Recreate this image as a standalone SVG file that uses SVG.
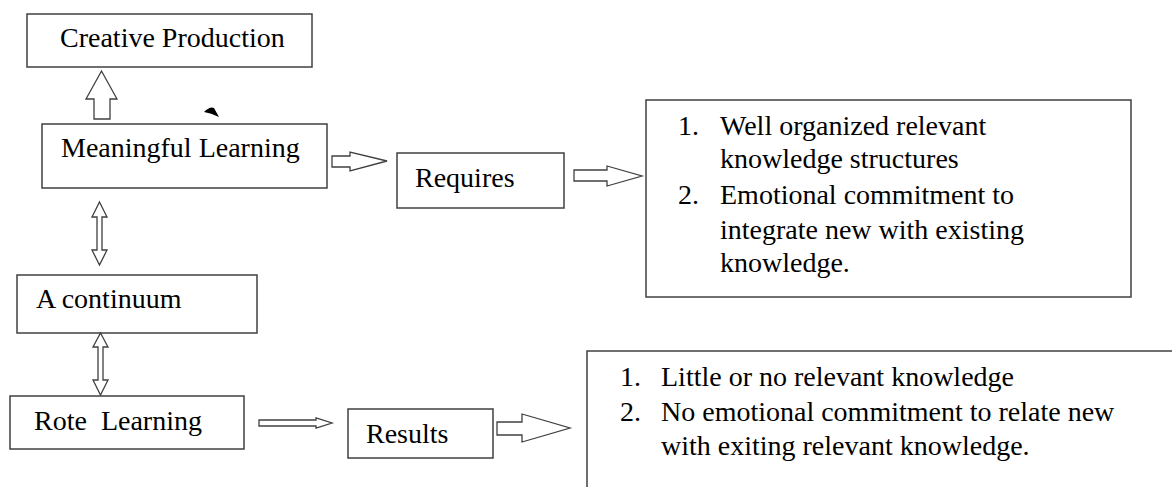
<svg xmlns="http://www.w3.org/2000/svg" width="1172" height="487" viewBox="0 0 1172 487">
<style>
.box{fill:#fff;stroke:#404040;stroke-width:1.5}
.arr{fill:#fff;stroke:#404040;stroke-width:1.3;stroke-linejoin:miter}
.t{font-family:'Liberation Serif','Times New Roman',Times,'DejaVu Serif',serif;font-size:28px;fill:#000}
</style>
<rect width="1172" height="487" fill="#fff"/>
<g id="creative-production">
<rect class="box" x="27" y="14" width="285" height="53"/>
<text class="t" x="60" y="47">Creative Production</text>
</g>
<g id="meaningful-learning">
<rect class="box" x="42" y="124" width="285" height="64"/>
<text class="t" x="61" y="157">Meaningful Learning</text>
</g>
<path d="M204,112 Q210,106 214,108 L219,117 Q211,113 204,112 Z" fill="#000"/>
<g id="requires">
<rect class="box" x="397" y="153" width="167" height="55"/>
<text class="t" x="415" y="187">Requires</text>
</g>
<g id="requirements-list">
<rect class="box" x="646" y="100" width="485" height="197"/>
<text class="t" x="678" y="135">1.</text>
<text class="t" x="720" y="135">Well organized relevant</text>
<text class="t" x="720" y="168">knowledge structures</text>
<text class="t" x="678" y="204">2.</text>
<text class="t" x="720" y="204">Emotional commitment to</text>
<text class="t" x="720" y="239">integrate new with existing</text>
<text class="t" x="720" y="272">knowledge.</text>
</g>
<g id="continuum">
<rect class="box" x="17" y="275" width="240" height="58"/>
<text class="t" x="36" y="308">A continuum</text>
</g>
<g id="rote-learning">
<rect class="box" x="10" y="396" width="234" height="53"/>
<text class="t" x="34" y="430" xml:space="preserve">Rote  Learning</text>
</g>
<g id="results">
<rect class="box" x="348" y="409" width="145" height="49"/>
<text class="t" x="366" y="443">Results</text>
</g>
<g id="results-list">
<rect class="box" x="587" y="351" width="620" height="160"/>
<text class="t" x="620" y="386">1.</text>
<text class="t" x="661" y="386">Little or no relevant knowledge</text>
<text class="t" x="620" y="421">2.</text>
<text class="t" x="661" y="421">No emotional commitment to relate new</text>
<text class="t" x="661" y="455">with exiting relevant knowledge.</text>
</g>
<g id="connectors">
<polygon class="arr" points="94,119 94,99 86,99 101.5,71 117,99 110,99 110,119"/>
<polygon class="arr" points="332,156 350,156 350,152 387,161 350,171 350,167 332,167"/>
<polygon class="arr" points="574,170 607,170 607,166 642,176 607,186 607,181 574,181"/>
<polygon class="arr" points="99.5,202 107,217 102,217 102,250 107,250 99.5,265 92,250 97,250 97,217 92,217"/>
<polygon class="arr" points="100.5,333 108,347 103,347 103,380 108,380 100.5,395 93,380 98,380 98,347 93,347"/>
<polygon class="arr" points="259,420 316,420 316,418 332,423 316,428 316,426 259,426"/>
<polygon class="arr" points="497,422 522,422 522,414 570,428 522,442 522,435 497,435"/>
</g>
</svg>
